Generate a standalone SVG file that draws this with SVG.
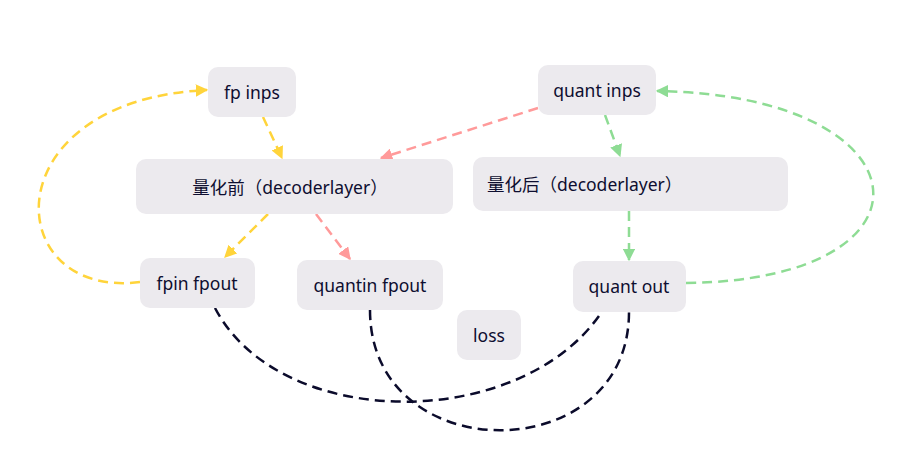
<svg xmlns="http://www.w3.org/2000/svg" width="912" height="459" viewBox="0 0 912 459">
<style>
.box{fill:#ECEAEE;}
.t{font-family:"Noto Sans","Noto Sans CJK SC",sans-serif;font-size:17.5px;fill:#0E0E30;dominant-baseline:central;}
.c{text-anchor:middle;}
.e{fill:none;stroke-width:2.5;stroke-dasharray:10 6;}
.y{stroke:#FFD43B;}
.p{stroke:#FF9A9A;}
.g{stroke:#8EDC94;}
.k{stroke:#0B0B2B;}
</style>
<defs>
<marker id="ay" viewBox="0 0 10 10" refX="9" refY="5" markerWidth="5" markerHeight="5" orient="auto" markerUnits="strokeWidth"><path d="M0,0L10,5L0,10z" fill="#FFD43B"/></marker>
<marker id="ap" viewBox="0 0 10 10" refX="9" refY="5" markerWidth="5" markerHeight="5" orient="auto" markerUnits="strokeWidth"><path d="M0,0L10,5L0,10z" fill="#FF9A9A"/></marker>
<marker id="ag" viewBox="0 0 10 10" refX="9" refY="5" markerWidth="5" markerHeight="5" orient="auto" markerUnits="strokeWidth"><path d="M0,0L10,5L0,10z" fill="#8EDC94"/></marker>
</defs>
<rect width="912" height="459" fill="#fff"/>
<g id="connectors">
<path class="e y" d="M263,117 L282,158" marker-end="url(#ay)"/>
<path class="e y" d="M268,214 L225,257" marker-end="url(#ay)"/>
<path class="e y" d="M140,282 C0,300 -10,100 207,90" marker-end="url(#ay)"/>
<path class="e p" d="M538,108 L381,158" marker-end="url(#ap)"/>
<path class="e p" d="M316,214 L350,259" marker-end="url(#ap)"/>
<path class="e g" d="M605,115 L620,156" marker-end="url(#ag)"/>
<path class="e g" d="M629,211 L629,260" marker-end="url(#ag)"/>
<path class="e g" d="M686,283 C950,280 930,95 657,91" marker-end="url(#ag)"/>
<path class="e k" d="M215,308 C280,432 520,432 601,313"/>
<path class="e k" d="M370,310 C370,470 629,470 629,312"/>
</g>
<g id="fp-inps"><rect class="box" x="208" y="67" width="88" height="50" rx="10"/><text class="t c" x="252" y="92">fp inps</text></g>
<g id="quant-inps"><rect class="box" x="538" y="65" width="118" height="50" rx="10"/><text class="t c" x="597" y="90">quant inps</text></g>
<g id="pre"><rect class="box" x="136" y="159" width="317" height="55" rx="10"/><text class="t c" x="290" y="187">量化前（decoderlayer）</text></g>
<g id="post"><rect class="box" x="473" y="157" width="315" height="54" rx="10"/><text class="t" x="487" y="184">量化后（decoderlayer）</text></g>
<g id="fpin-fpout"><rect class="box" x="140" y="258" width="115" height="50" rx="10"/><text class="t c" x="197" y="283">fpin fpout</text></g>
<g id="quantin-fpout"><rect class="box" x="297" y="260" width="146" height="50" rx="10"/><text class="t c" x="370" y="285">quantin fpout</text></g>
<g id="quant-out"><rect class="box" x="573" y="261" width="113" height="51" rx="10"/><text class="t c" x="629" y="286">quant out</text></g>
<g id="loss"><rect class="box" x="457" y="310" width="64" height="50" rx="10"/><text class="t c" x="489" y="335">loss</text></g>
</svg>
